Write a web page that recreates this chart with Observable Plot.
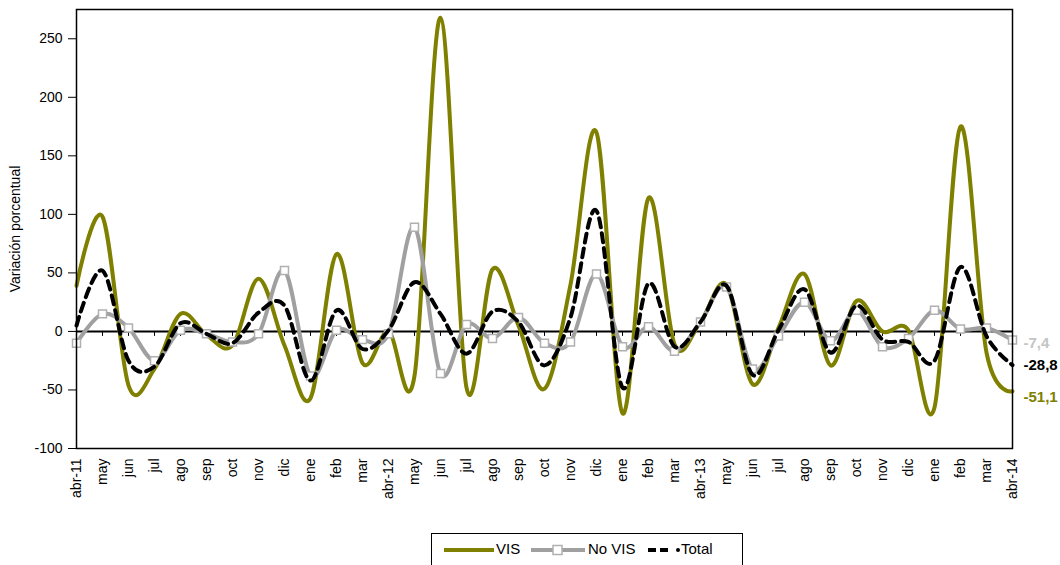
<!DOCTYPE html>
<html>
<head>
<meta charset="utf-8">
<script src="https://cdn.jsdelivr.net/npm/d3@7"></script>
<script src="https://cdn.jsdelivr.net/npm/@observablehq/plot@0.6"></script>
<style>
  html, body { margin: 0; padding: 0; background: #fff; }
  #wrap { position: relative; width: 1060px; height: 565px; overflow: hidden; font-family: "Liberation Sans", Arial, sans-serif; }
  #legend { position: absolute; left: 431px; top: 533px; width: 312px; height: 40px; border: 1px solid #000; box-sizing: border-box; background: #fff; }
  .lg { position: absolute; font-size: 15px; top: 6px; color: #000; }
  .sw { position: absolute; top: 6px; }
</style>
</head>
<body>
<div id="wrap">
  <div id="chart"></div>
  <div id="legend"></div>
</div>
<script>
const months = ["abr-11","may","jun","jul","ago","sep","oct","nov","dic","ene","feb","mar",
  "abr-12","may","jun","jul","ago","sep","oct","nov","dic","ene","feb","mar",
  "abr-13","may","jun","jul","ago","sep","oct","nov","dic","ene","feb","mar","abr-14"];

const vis = [39, 98, -46, -32, 15, -3, -12, 45, -12, -57, 66, -27,
  0, -38, 268, -48, 53, 5, -49, 40, 170, -70, 114, -11,
  8, 40, -45, 3, 49, -29, 26, 0, 1, -65, 175, -18, -51.1];

const novis = [-10, 15, 3, -25, 1, -2, -9, -2, 52, -38, 1, -7,
  -2, 89, -36, 6, -6, 12, -10, -9, 49, -13, 4, -17,
  8, 38, -32, -4, 25, -8, 18, -13, -6, 18, 2, 3, -7.4];

const total = [5, 52, -25, -30, 7, -2, -10, 16, 22, -42, 18, -15,
  1, 42, 15, -19, 17, 8, -29, 12, 103, -48, 41, -13,
  8, 39, -37, 1, 36, -18, 22, -7, -9, -25, 55, -4, -28.8];

const seriesNames = ["VIS", "No VIS", "Total"];
const seriesColors = ["#808000", "#a0a0a0", "#000000"];
const endLabels = ["-51,1", "-7,4", "-28,8"];
const endColors = ["#808000", "#c4c4c4", "#000000"];
const yTicks = [-100, -50, 0, 50, 100, 150, 200, 250];

const rows = months.map((m, i) => ({i, m, vis: vis[i], novis: novis[i], total: total[i]}));
const last = months.length - 1;

function endText(value, label, color, dy) {
  return Plot.text([{x: last, y: value, t: label}], {
    x: "x", y: "y", text: "t", fill: color, dx: 11, dy,
    textAnchor: "start", fontWeight: "bold", fontSize: 15, clip: false
  });
}

const chart = Plot.plot({
  width: 1060,
  height: 520,
  marginLeft: 76,
  marginRight: 48,
  marginTop: 9,
  marginBottom: 72,
  style: {fontFamily: "'Liberation Sans', Arial, sans-serif", fontSize: "14px", background: "#fff", color: "#000", overflow: "visible"},
  x: {type: "linear", domain: [0, last]},
  y: {domain: [-100, 275]},
  marks: [
    Plot.axisY({ticks: yTicks, tickFormat: d => String(d), tickSize: 8, tickPadding: 6, label: "Variación porcentual", labelAnchor: "center", labelArrow: "none", labelOffset: 66, fontSize: 14}),
    Plot.axisX({ticks: d3.range(months.length), tickFormat: i => months[i], tickRotate: -90, tickSize: 0, tickPadding: 10, label: null, fontSize: 14}),
    Plot.ruleY([0], {stroke: "#000", strokeWidth: 2}),
    Plot.ruleX(d3.range(months.length), {x: d => d, y1: 0, y2: 0, insetBottom: -5, stroke: "#000", strokeWidth: 1}),
    Plot.line(rows, {x: "i", y: "vis", stroke: seriesColors[0], strokeWidth: 4, curve: "cardinal"}),
    Plot.line(rows, {x: "i", y: "novis", stroke: seriesColors[1], strokeWidth: 4, curve: "cardinal"}),
    Plot.dot(rows, {x: "i", y: "novis", symbol: "square", r: 4.5, fill: "#fff", stroke: "#b0b0b0", strokeWidth: 1.5}),
    Plot.line(rows, {x: "i", y: "total", stroke: seriesColors[2], strokeWidth: 4, strokeDasharray: "9,6", curve: "cardinal"}),
    Plot.frame({stroke: "#000", strokeWidth: 1.5}),
    endText(vis[last], endLabels[0], endColors[0], 6),
    endText(novis[last], endLabels[1], endColors[1], 3),
    endText(total[last], endLabels[2], endColors[2], 0)
  ]
});
document.getElementById("chart").appendChild(chart);

// legend
const lg = document.getElementById("legend");
const baseX = 431;
function add(html) { lg.insertAdjacentHTML("beforeend", html); }
add(`<svg class="sw" style="left:${443-baseX}px" width="52" height="20"><line x1="0" y1="10" x2="50" y2="10" stroke="${seriesColors[0]}" stroke-width="4"/></svg>`);
add(`<span class="lg" style="left:${495-baseX}px">${seriesNames[0]}</span>`);
add(`<svg class="sw" style="left:${530-baseX}px" width="56" height="20"><line x1="0" y1="10" x2="54" y2="10" stroke="${seriesColors[1]}" stroke-width="4"/><rect x="22" y="5.5" width="9" height="9" fill="#fff" stroke="#b0b0b0" stroke-width="1.5"/></svg>`);
add(`<span class="lg" style="left:${587-baseX}px">${seriesNames[1]}</span>`);
add(`<svg class="sw" style="left:${647-baseX}px" width="34" height="20"><line x1="0" y1="10" x2="24" y2="10" stroke="${seriesColors[2]}" stroke-width="4" stroke-dasharray="8,4"/><circle cx="30" cy="10" r="2" fill="#000"/></svg>`);
add(`<span class="lg" style="left:${680-baseX}px">${seriesNames[2]}</span>`);
</script>
</body>
</html>
